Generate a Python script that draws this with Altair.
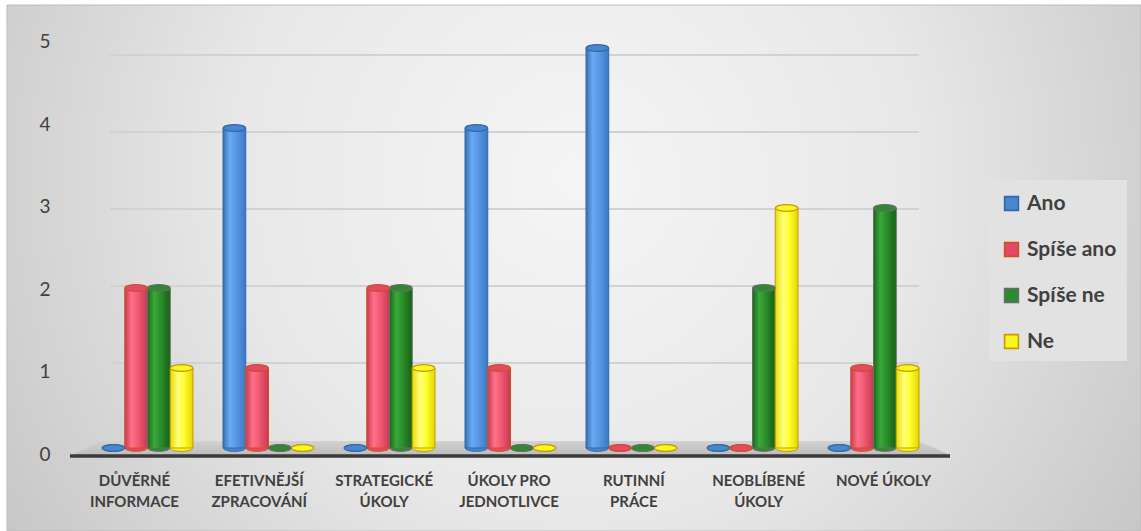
import altair as alt
import pandas as pd

# Survey answers per task type
categories = [
    "DŮVĚRNÉ\nINFORMACE",
    "EFETIVNĚJŠÍ\nZPRACOVÁNÍ",
    "STRATEGICKÉ\nÚKOLY",
    "ÚKOLY PRO\nJEDNOTLIVCE",
    "RUTINNÍ\nPRÁCE",
    "NEOBLÍBENÉ\nÚKOLY",
    "NOVÉ ÚKOLY",
]
series = ["Ano", "Spíše ano", "Spíše ne", "Ne"]
ano = [0, 4, 0, 4, 5, 0, 0]
spise_ano = [2, 1, 2, 1, 0, 0, 1]
spise_ne = [2, 0, 2, 0, 0, 2, 3]
ne = [1, 0, 1, 0, 0, 3, 1]
y_ticks = [0, 1, 2, 3, 4, 5]
grid_ticks = [1, 2, 3, 4, 5]

series_fill = ["#4a86cc", "#e4486a", "#2a8c2a", "#f8f820"]
series_stroke = ["#2f68ac", "#d0501c", "#6a6a6a", "#c89a00"]
body_stops = [
    [("#3570b8", 0), ("#6aaaf0", 0.3), ("#5a9ae6", 0.55), ("#3a78c4", 1)],
    [("#c63a52", 0), ("#ff7088", 0.3), ("#f05872", 0.6), ("#c63a52", 1)],
    [("#186a18", 0), ("#3aa83a", 0.3), ("#2a8c2a", 0.6), ("#166016", 1)],
    [("#e6de00", 0), ("#ffff80", 0.35), ("#ffff30", 0.6), ("#e4d600", 1)],
]

W, H = 1141, 531
FONT = "Lato"
TEXT = "#404040"

rows = []
for s, vals in zip(series, [ano, spise_ano, spise_ne, ne]):
    for c, v in zip(categories, vals):
        rows.append({"kategorie": c, "odpoved": s, "pocet": v})
bars_df = pd.DataFrame(rows)
one = pd.DataFrame({"k": [0]})
ticks_df = pd.DataFrame({"v": y_ticks})
grid_df = pd.DataFrame({"v": grid_ticks})
cat_df = pd.DataFrame({"kategorie": categories})

# Scales of the 3D plot: bars stand slightly behind the label row
def x_bars():
    return alt.X("kategorie:N", axis=None,
                 scale=alt.Scale(domain=categories, range=[87, 934],
                                 paddingInner=0.248, paddingOuter=0.124))

def xoff():
    return alt.XOffset("odpoved:N",
                       scale=alt.Scale(domain=series, paddingInner=0, paddingOuter=0))

def xoff_center():
    # point scale puts each ellipse in the middle of its bar slot
    return alt.XOffset("odpoved:N",
                       scale=alt.Scale(type="point", domain=series, padding=0.5))

def y_bars(field="pocet:Q"):
    return alt.Y(field, axis=None, stack=None,
                 scale=alt.Scale(domain=[0, 5], range=[448, 48], nice=False))

ELLIPSE = "M -1 0 A 1 0.3 0 1 0 1 0 A 1 0.3 0 1 0 -1 0 Z"
ELL_SIZE = 500

color_scale = alt.Scale(domain=series, range=series_fill)
stroke_scale = alt.Scale(domain=series, range=series_stroke)


def legend():
    return alt.Legend(
        title=None, orient="none", legendX=1001, legendY=193, padding=0,
        symbolType="square", symbolSize=190, symbolStrokeWidth=1.6, symbolOpacity=1,
        labelFont=FONT, labelFontSize=21, labelFontWeight="bold", labelColor=TEXT,
        labelOffset=5, rowPadding=24,
    )


background = alt.Chart(one).mark_rect(
    fill=alt.RadialGradient(
        gradient="radial", x1=0.5, y1=0.42, r1=0, x2=0.5, y2=0.42, r2=0.6,
        stops=[alt.GradientStop(color="#f5f5f5", offset=0),
               alt.GradientStop(color="#e8e8e8", offset=0.5),
               alt.GradientStop(color="#c6c6c6", offset=1)],
    ),
    stroke="#bdbdbd", strokeWidth=1,
).encode(x=alt.value(7), x2=alt.value(W), y=alt.value(5), y2=alt.value(H))

gridlines = alt.Chart(grid_df).mark_rule(color="#d2d2d2", strokeWidth=2).encode(
    y=alt.Y("v:Q", axis=None,
            scale=alt.Scale(domain=[0, 5], range=[440, 55], nice=False)),
    x=alt.value(110), x2=alt.value(919),
)

FLOOR = "M -1 0.0159 L 1 0.0159 L 0.927 -0.0159 L -0.9317 -0.0159 Z"
floor = alt.Chart(one).mark_point(
    shape=FLOOR, size=878 ** 2, filled=True, opacity=1, strokeWidth=0,
    fill=alt.LinearGradient(
        gradient="linear", x1=0, y1=0, x2=0, y2=1,
        stops=[alt.GradientStop(color="#d2d2d2", offset=0),
               alt.GradientStop(color="#bcbcbc", offset=1)],
    ),
).encode(x=alt.value(511), y=alt.value(448))

axis_line = alt.Chart(one).mark_rule(color="#3a3a3a", strokeWidth=3.5).encode(
    x=alt.value(70), x2=alt.value(950), y=alt.value(456)
)

y_labels = alt.Chart(ticks_df).mark_text(
    font=FONT, fontSize=19, color=TEXT, align="center", baseline="middle"
).encode(
    y=alt.Y("v:Q", axis=None,
            scale=alt.Scale(domain=[0, 5], range=[455, 42], nice=False)),
    x=alt.value(45),
    text="v:Q",
)

x_labels = alt.Chart(cat_df).mark_text(
    font=FONT, fontSize=15, fontWeight="bold", color=TEXT, align="center",
    baseline="middle", lineBreak="\n", lineHeight=21,
).encode(
    x=alt.X("kategorie:N", axis=None,
            scale=alt.Scale(domain=categories, range=[72, 946],
                            paddingInner=0, paddingOuter=0)),
    y=alt.value(481),
    text="kategorie:N",
)

legend_box = alt.Chart(one).mark_rect(fill="#e2e2e2").encode(
    x=alt.value(989), x2=alt.value(1127), y=alt.value(180), y2=alt.value(361)
)

base = alt.Chart(bars_df)

bottoms = base.transform_calculate(nula="0").mark_point(
    shape=ELLIPSE, size=ELL_SIZE, filled=True, opacity=1, strokeWidth=1,
).encode(
    x=x_bars(), xOffset=xoff_center(), y=y_bars("nula:Q"),
    color=alt.Color("odpoved:N", scale=color_scale, legend=legend(), sort=series),
    stroke=alt.Stroke("odpoved:N", scale=stroke_scale, legend=legend(), sort=series),
)

bodies = []
for s, stops, st in zip(series, body_stops, series_stroke):
    bodies.append(
        base.transform_filter((alt.datum.odpoved == s) & (alt.datum.pocet > 0))
        .mark_bar(
            fill=alt.LinearGradient(
                gradient="linear", x1=0, y1=0, x2=1, y2=0,
                stops=[alt.GradientStop(color=c, offset=o) for c, o in stops],
            ),
            stroke=st, strokeWidth=1,
        )
        .encode(x=x_bars(), xOffset=xoff(), y=y_bars())
    )

caps = base.mark_point(
    shape=ELLIPSE, size=ELL_SIZE, filled=True, opacity=1, strokeWidth=1.2,
).encode(
    x=x_bars(), xOffset=xoff_center(), y=y_bars(),
    color=alt.Color("odpoved:N", scale=color_scale, legend=legend(), sort=series),
    stroke=alt.Stroke("odpoved:N", scale=stroke_scale, legend=legend(), sort=series),
)

chart = (
    alt.layer(background, gridlines, floor, axis_line, y_labels, x_labels,
              legend_box, bottoms, *bodies, caps)
    .resolve_scale(x="independent", y="independent", xOffset="independent")
    .properties(width=W, height=H, padding=0, autosize="none", background="white")
    .configure_view(stroke=None)
)

chart.save("out.html", embed_options={"renderer": "svg", "actions": False})
